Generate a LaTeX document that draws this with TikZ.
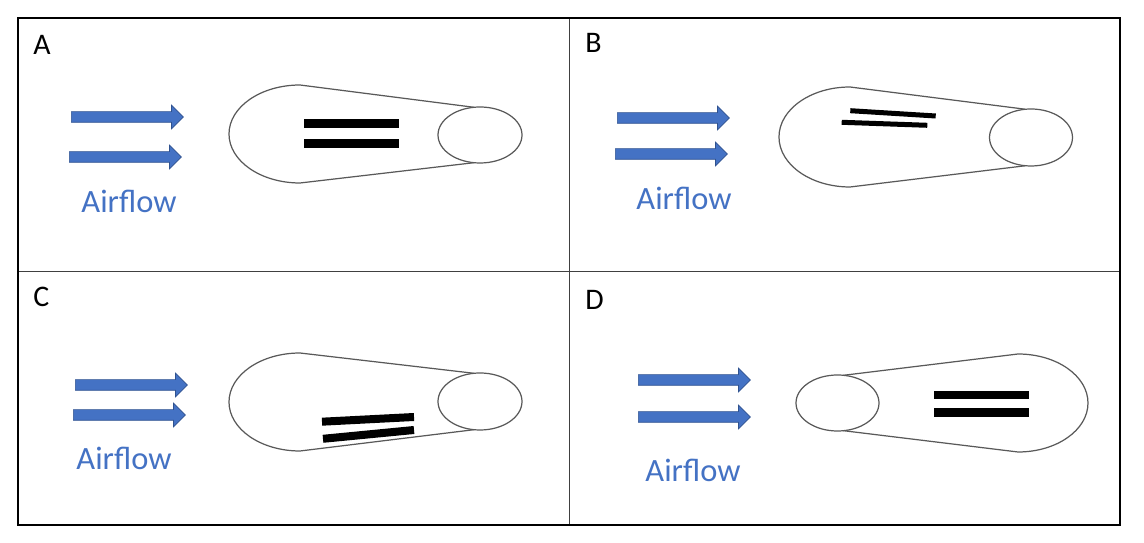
\documentclass[tikz,border=0pt]{standalone}
\usepackage{fontspec}
\setmainfont{Carlito}
\usetikzlibrary{shapes.arrows}

\definecolor{flowblue}{HTML}{4472C4}
\definecolor{flowedge}{HTML}{2F528F}
\definecolor{beltgray}{HTML}{595959}

\begin{document}
\begin{tikzpicture}[x=0.02cm, y=-0.02cm,
    flow/.style={single arrow, fill=flowblue, draw=flowedge, line width=0.4pt,
      inner sep=0pt, text height=0.1cm, text depth=0.1cm,
      minimum height=2.24cm, minimum width=0.46cm,
      single arrow head extend=0.13cm, anchor=tail},
    flowlabel/.style={text=flowblue, font=\fontsize{18.5}{18.5}\selectfont, anchor=base},
    panel/.style={font=\fontsize{17}{17}\selectfont, anchor=base west, inner sep=0pt},
    belt/.style={draw=beltgray, line width=0.7pt},
    blade/.style={line width=0.18cm},
    thinblade/.style={line width=0.1cm},
    divider/.style={draw=black!75, line width=0.6pt}]
   % Sizes
   \pgfmathsetmacro{\bigrx}{71}
   \pgfmathsetmacro{\bigry}{49}
   \pgfmathsetmacro{\smallrx}{42}
   \pgfmathsetmacro{\smallry}{28}
   \useasboundingbox (0,0) rectangle (1144,543);

   % frame
   \draw[divider] (569.5,18) -- (569.5,525);
   \draw[divider] (18,271.5) -- (1120,271.5);
   \draw[line width=1.2pt] (18,18) rectangle (1120,525);

   % pulleys
   \coordinate (smallA) at (480,135);
   \coordinate (smallB) at (1031,137.5);
   \coordinate (smallC) at (480,401.5);
   \coordinate (smallD) at (837.5,403);

   % panel A
   \draw[belt] (474,107.3) -- (300,85)
     arc[start angle=-90, end angle=-270, x radius=\bigrx, y radius=\bigry] -- (474,162.7);
   \draw[belt] (smallA) ellipse[x radius=\smallrx, y radius=\smallry];
   \draw[blade] (304,123.5) -- (399,123.5);
   \draw[blade] (304,143.5) -- (399,143.5);

   % panel B
   \draw[belt] (1025,109.2) -- (850,87)
     arc[start angle=-90, end angle=-270, x radius=\bigrx, y radius=50] -- (1025,165.8);
   \draw[belt] (smallB) ellipse[x radius=41.5, y radius=28.5];
   \draw[thinblade] (850.3,110.7) -- (935.7,116);
   \draw[thinblade] (841.7,122.3) -- (927.3,125.3);

   % panel C
   \draw[belt] (474,373.3) -- (300,353)
     arc[start angle=-90, end angle=-270, x radius=\bigrx, y radius=\bigry] -- (474,429.7);
   \draw[belt] (smallC) ellipse[x radius=\smallrx, y radius=28.5];
   \draw[line width=0.16cm] (322,421.7) -- (414,417);
   \draw[line width=0.16cm] (323,438.8) -- (414,430);

   % panel D
   \draw[belt] (843.5,375.3) -- (1018,354)
     arc[start angle=-90, end angle=90, x radius=70, y radius=\bigry] -- (843.5,430.7);
   \draw[belt] (smallD) ellipse[x radius=41.5, y radius=\smallry];
   \draw[line width=0.17cm] (934,395) -- (1029,395);
   \draw[line width=0.17cm] (934,412.5) -- (1029,412.5);

   % airflow arrows
   \node[flow] (arrA1) at (71,117) {};
   \node[flow] (arrA2) at (69,157) {};
   \node[flow] (arrB1) at (617,118) {};
   \node[flow] (arrB2) at (615,154) {};
   \node[flow] (arrC1) at (75,385) {};
   \node[flow] (arrC2) at (73,415) {};
   \node[flow] (arrD1) at (638,380) {};
   \node[flow] (arrD2) at (638,417) {};

   % labels
   \node[panel] (labA) at (33,55) {A};
   \node[panel] (labB) at (585,53) {B};
   \node[panel] (labC) at (33,307) {C};
   \node[panel] (labD) at (585,310) {D};

   \node[flowlabel] (airA) at (129,213) {Airflow};
   \node[flowlabel] (airB) at (684,210) {Airflow};
   \node[flowlabel] (airC) at (124,470) {Airflow};
   \node[flowlabel] (airD) at (693,482) {Airflow};
\end{tikzpicture}
\end{document}
